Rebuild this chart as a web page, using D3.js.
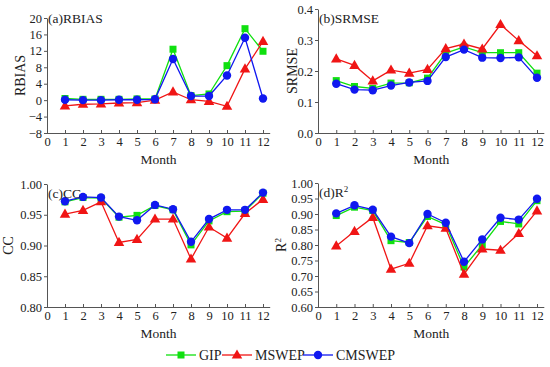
<html>
<head>
<meta charset="utf-8" />
<script src="https://d3js.org/d3.v7.min.js"></script>
<style>
    body { margin: 0px; background: #fff; }
    .axis path, .axis line { stroke: #555; }
</style>
</head>
<body>
<script type="text/javascript">
// months along x, four metrics, three products
var months = [1, 2, 3, 4, 5, 6, 7, 8, 9, 10, 11, 12];
var xTicks = [0, 1, 2, 3, 4, 5, 6, 7, 8, 9, 10, 11, 12];
var seriesNames = ["GIP", "MSWEP", "CMSWEP"];

var rbiasGIP    = [0.4, 0.2, 0.2, 0.2, 0.3, 0.3, 12.4, 1.1, 1.5, 8.4, 17.4, 11.9];
var rbiasMSWEP  = [-1.4, -1.0, -0.9, -0.7, -0.6, 0.0, 2.0, 0.1, -0.3, -1.5, 7.6, 14.3];
var rbiasCMSWEP = [0.1, 0.0, 0.0, 0.1, 0.1, 0.2, 10.0, 1.0, 1.0, 6.0, 15.2, 0.4];

var srmseGIP    = [0.169, 0.150, 0.144, 0.161, 0.162, 0.177, 0.258, 0.278, 0.259, 0.259, 0.259, 0.193];
var srmseMSWEP  = [0.239, 0.218, 0.168, 0.203, 0.193, 0.205, 0.272, 0.287, 0.271, 0.350, 0.298, 0.249];
var srmseCMSWEP = [0.159, 0.140, 0.138, 0.153, 0.163, 0.168, 0.245, 0.269, 0.243, 0.242, 0.244, 0.178];

var ccGIP    = [0.971, 0.978, 0.977, 0.946, 0.949, 0.965, 0.958, 0.901, 0.940, 0.955, 0.956, 0.985];
var ccMSWEP  = [0.951, 0.957, 0.971, 0.905, 0.910, 0.943, 0.943, 0.878, 0.930, 0.912, 0.952, 0.975];
var ccCMSWEP = [0.972, 0.979, 0.978, 0.947, 0.941, 0.966, 0.959, 0.906, 0.943, 0.958, 0.958, 0.986];

var r2GIP    = [0.895, 0.922, 0.911, 0.814, 0.808, 0.892, 0.866, 0.729, 0.800, 0.876, 0.868, 0.943];
var r2MSWEP  = [0.797, 0.844, 0.889, 0.722, 0.741, 0.862, 0.854, 0.706, 0.787, 0.783, 0.837, 0.910];
var r2CMSWEP = [0.902, 0.928, 0.914, 0.827, 0.806, 0.900, 0.872, 0.746, 0.818, 0.888, 0.882, 0.949];

var rbiasTicks = [-8, -4, 0, 4, 8, 12, 16, 20];
var srmseTicks = [0.0, 0.1, 0.2, 0.3, 0.4];
var ccTicks = [0.80, 0.85, 0.90, 0.95, 1.00];
var r2Ticks = [0.60, 0.65, 0.70, 0.75, 0.80, 0.85, 0.90, 0.95, 1.00];

var colors = { GIP: "#10e010", MSWEP: "#f01515", CMSWEP: "#1018f0" };
var serif = "'Liberation Serif'";

var svg = d3.select("body").append("svg")
    .attr("width", 550)
    .attr("height", 367)
    .style("font-family", serif);

function drawMarker(g, name, cx, cy) {
    var c = colors[name];
    if (name == "GIP") {
        g.append("rect").attr("x", cx - 3.5).attr("y", cy - 3.5)
            .attr("width", 7).attr("height", 7).attr("fill", c);
    } else if (name == "MSWEP") {
        g.append("path").attr("d", d3.symbol().type(d3.symbolTriangle).size(48)())
            .attr("transform", "translate(" + cx + "," + (cy + 0.5) + ")")
            .attr("fill", c);
    } else {
        g.append("circle").attr("cx", cx).attr("cy", cy).attr("r", 4.2).attr("fill", c);
    }
}

function drawPanel(p) {
    var g = svg.append("g");

    var x = d3.scaleLinear().domain([0, 12]).range([p.left, p.left + p.w12]);
    var xEnd = x(12.4);
    var y = d3.scaleLinear().domain([p.ticks[0], p.ticks[p.ticks.length - 1]]).range([p.bottom, p.top]);

    // axes
    g.append("g").attr("class", "axis")
        .attr("transform", "translate(0," + p.bottom + ")")
        .call(d3.axisBottom(x).tickValues(xTicks).tickSizeInner(-3).tickSizeOuter(0).tickPadding(4))
        .call(a => a.select(".domain").attr("d", "M" + p.left + ",0.5H" + xEnd));

    g.append("g").attr("class", "axis")
        .attr("transform", "translate(" + p.left + ",0)")
        .call(d3.axisLeft(y).tickValues(p.ticks).tickFormat(p.fmt).tickSizeInner(3).tickSizeOuter(0).tickPadding(2));

    g.selectAll(".axis").attr("font-family", null).attr("font-size", null);
    g.selectAll(".axis text").style("font-size", "12.5px").style("font-family", serif).attr("fill", "#222");

    // series
    var lines = [p.a, p.b, p.c];
    lines.forEach(function(vals, si) {
        var name = seriesNames[si];
        var line = d3.line().x((d, i) => x(months[i])).y(d => y(d));
        g.append("path").datum(vals)
            .attr("d", line)
            .attr("fill", "none")
            .attr("stroke", colors[name])
            .attr("stroke-width", 1.3);
        vals.forEach(function(v, i) {
            drawMarker(g, name, x(months[i]), y(v));
        });
    });

    // panel title
    var t = g.append("text").attr("x", p.left + 1).attr("y", p.titleY)
        .style("font-size", "13.5px").attr("fill", "#222").text(p.title);
    if (p.sup) t.append("tspan").attr("dy", -5).style("font-size", "9px").text("2");

    // axis titles
    g.append("text").attr("x", (p.left + xEnd) / 2).attr("y", p.bottom + 31)
        .attr("text-anchor", "middle").style("font-size", "13.5px").attr("fill", "#222").text("Month");

    var yl = g.append("text")
        .attr("transform", "translate(" + p.ylabX + "," + ((p.top + p.bottom) / 2) + ") rotate(-90)")
        .attr("text-anchor", "middle").style("font-size", "14px").attr("fill", "#222").text(p.ylabel);
    if (p.sup) yl.append("tspan").attr("dy", -5).style("font-size", "9px").text("2");
}

drawPanel({ left: 47, w12: 216, top: 18, bottom: 133, ticks: rbiasTicks, fmt: d3.format("d"),
    a: rbiasGIP, b: rbiasMSWEP, c: rbiasCMSWEP, title: "(a)RBIAS", titleY: 23, ylabel: "RBIAS", ylabX: 25 });
drawPanel({ left: 318, w12: 219, top: 9, bottom: 133, ticks: srmseTicks, fmt: d3.format(".1f"),
    a: srmseGIP, b: srmseMSWEP, c: srmseCMSWEP, title: "(b)SRMSE", titleY: 23, ylabel: "SRMSE", ylabX: 297 });
drawPanel({ left: 47, w12: 216, top: 184, bottom: 307, ticks: ccTicks, fmt: d3.format(".2f"),
    a: ccGIP, b: ccMSWEP, c: ccCMSWEP, title: "(c)CC", titleY: 198, ylabel: "CC", ylabX: 13 });
drawPanel({ left: 318, w12: 219, top: 183, bottom: 307, ticks: r2Ticks, fmt: d3.format(".2f"),
    a: r2GIP, b: r2MSWEP, c: r2CMSWEP, title: "(d)R", titleY: 197, ylabel: "R", ylabX: 286, sup: true });

// legend
var legX = [166, 222, 303];
seriesNames.forEach(function(name, i) {
    var lg = svg.append("g");
    var ly = 355;
    lg.append("line").attr("x1", legX[i]).attr("x2", legX[i] + 30)
        .attr("y1", ly).attr("y2", ly)
        .attr("stroke", colors[name]).attr("stroke-width", 1.3);
    drawMarker(lg, name, legX[i] + 15, ly);
    lg.append("text").attr("x", legX[i] + 33).attr("y", ly + 5)
        .style("font-size", "14px").attr("fill", "#222").text(name);
});
</script>
</body>
</html>
